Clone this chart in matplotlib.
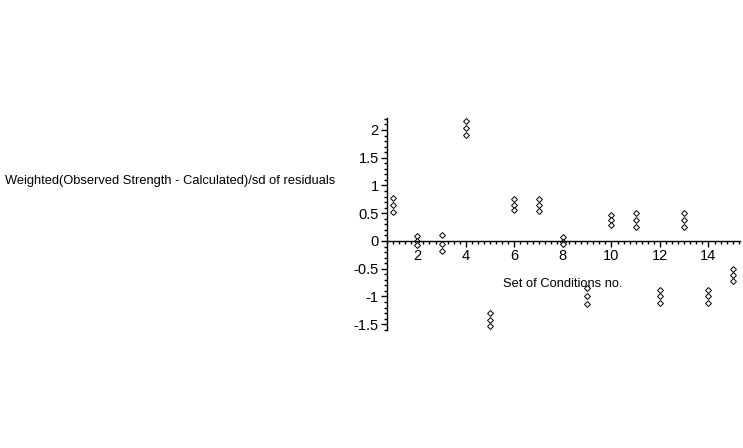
import matplotlib
matplotlib.use("Agg")
import matplotlib.pyplot as plt
from matplotlib.ticker import MultipleLocator

# Set of conditions and the three weighted residuals read for each one
conditions = list(range(1, 16))
residuals = [
    [0.77, 0.65, 0.52],
    [0.09, 0.00, -0.07],
    [0.10, -0.05, -0.18],
    [2.16, 2.04, 1.91],
    [-1.30, -1.42, -1.53],
    [0.76, 0.65, 0.55],
    [0.76, 0.65, 0.54],
    [0.07, -0.02, -0.06],
    [-0.85, -0.99, -1.14],
    [0.47, 0.37, 0.28],
    [0.50, 0.38, 0.26],
    [-0.88, -0.99, -1.12],
    [0.50, 0.38, 0.25],
    [-0.88, -0.99, -1.11],
    [-0.51, -0.62, -0.73],
]

x_label = "Set of Conditions no."
y_label = "Weighted(Observed Strength - Calculated)/sd of residuals"

plt.rcParams['font.family'] = ['Liberation Sans', 'DejaVu Sans']

fig = plt.figure(figsize=(7.43, 4.48), dpi=100)
ax = fig.add_axes([0.5209, 0.2634, 0.4751, 0.4732])

xs = []
ys = []
for c, vals in zip(conditions, residuals):
    for v in vals:
        xs.append(c)
        ys.append(v)
ax.plot(xs, ys, linestyle="none", marker="D", markersize=3.0,
        markerfacecolor="white", markeredgecolor="black", markeredgewidth=0.7)

ax.set_xlim(0.75, 15.3)
ax.set_ylim(-1.604, 2.216)

# Maple style axes: y axis on the left, x axis through zero
ax.spines["top"].set_visible(False)
ax.spines["right"].set_visible(False)
ax.spines["bottom"].set_position(("data", 0))
ax.spines["left"].set_linewidth(1.0)
ax.spines["bottom"].set_linewidth(1.0)

ax.xaxis.set_minor_locator(MultipleLocator(0.25))
ax.yaxis.set_minor_locator(MultipleLocator(0.1))
ax.set_xticks([2, 4, 6, 8, 10, 12, 14])
ax.set_yticks([-1.5, -1, -0.5, 0, 0.5, 1, 1.5, 2])
ax.set_yticklabels(["-1.5", "-1", "-0.5", "0", "0.5", "1", "1.5", "2"])
ax.tick_params(axis="both", which="major", length=4, width=1, labelsize=10.5, pad=2)
ax.tick_params(axis="both", which="minor", length=2, width=1)
ax.tick_params(axis="both", which="both", direction="out")

ax.text(8.0, -0.77, x_label, ha="center", va="center", fontsize=9.3)
fig.text(5 / 743, 1 - 181 / 448, y_label, ha="left", va="center", fontsize=9.3)

fig.savefig("out.png", dpi=100)
